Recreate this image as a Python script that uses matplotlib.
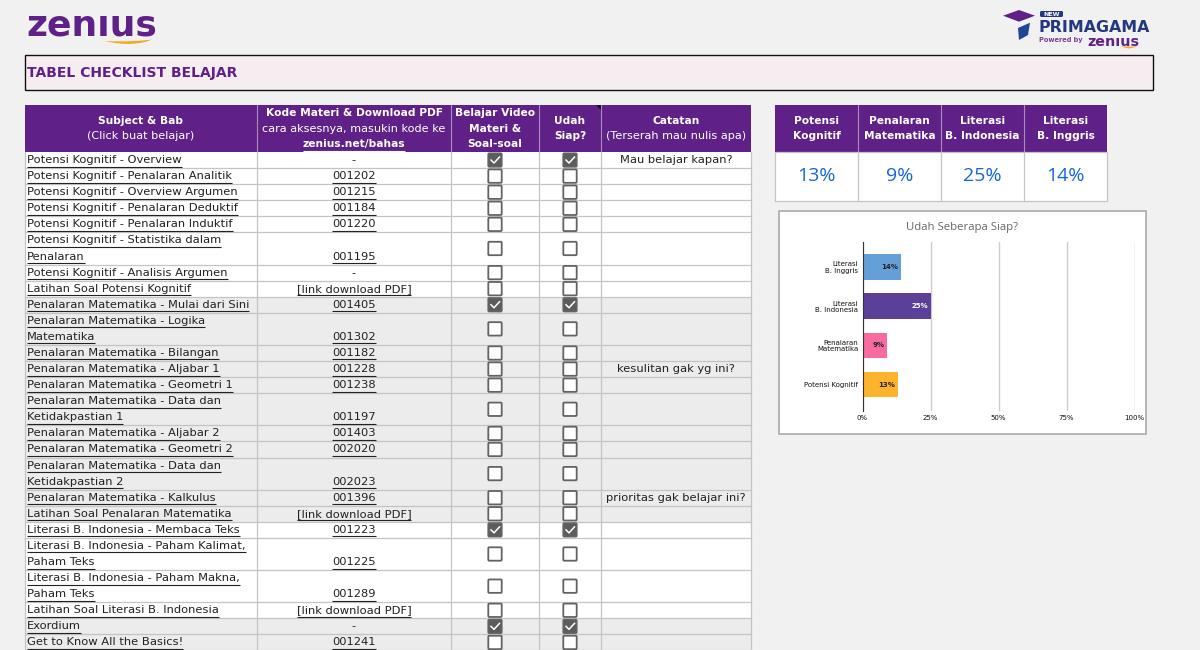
import matplotlib
matplotlib.use("Agg")
import matplotlib.pyplot as plt
from matplotlib.patches import Rectangle, FancyBboxPatch, Polygon, PathPatch
from matplotlib.path import Path

FONT = "DejaVu Sans"
plt.rcParams["font.family"] = [FONT]

PURPLE = "#5f2187"
GREY_ROW = "#ececec"
LINE = "#c4c4c4"
INK = "#222222"
BOLD_SIZE = 7.7
BODY_SIZE = 8.25

# table data
subjects = [
    "Potensi Kognitif - Overview",
    "Potensi Kognitif - Penalaran Analitik",
    "Potensi Kognitif - Overview Argumen",
    "Potensi Kognitif - Penalaran Deduktif",
    "Potensi Kognitif - Penalaran Induktif",
    "Potensi Kognitif - Statistika dalam\nPenalaran",
    "Potensi Kognitif - Analisis Argumen",
    "Latihan Soal Potensi Kognitif",
    "Penalaran Matematika - Mulai dari Sini",
    "Penalaran Matematika - Logika\nMatematika",
    "Penalaran Matematika - Bilangan",
    "Penalaran Matematika - Aljabar 1",
    "Penalaran Matematika - Geometri 1",
    "Penalaran Matematika - Data dan\nKetidakpastian 1",
    "Penalaran Matematika - Aljabar 2",
    "Penalaran Matematika - Geometri 2",
    "Penalaran Matematika - Data dan\nKetidakpastian 2",
    "Penalaran Matematika - Kalkulus",
    "Latihan Soal Penalaran Matematika",
    "Literasi B. Indonesia - Membaca Teks",
    "Literasi B. Indonesia - Paham Kalimat,\nPaham Teks",
    "Literasi B. Indonesia - Paham Makna,\nPaham Teks",
    "Latihan Soal Literasi B. Indonesia",
    "Exordium",
    "Get to Know All the Basics!",
]
codes = ["-", "001202", "001215", "001184", "001220", "001195", "-", "[link download PDF]",
         "001405", "001302", "001182", "001228", "001238", "001197", "001403", "002020",
         "002023", "001396", "[link download PDF]", "001223", "001225", "001289",
         "[link download PDF]", "-", "001241"]
video_done = [1, 0, 0, 0, 0, 0, 0, 0, 1, 0, 0, 0, 0, 0, 0, 0, 0, 0, 0, 1, 0, 0, 0, 1, 0]
siap_done = [1, 0, 0, 0, 0, 0, 0, 0, 1, 0, 0, 0, 0, 0, 0, 0, 0, 0, 0, 1, 0, 0, 0, 1, 0]
notes = {0: "Mau belajar kapan?", 11: "kesulitan gak yg ini?", 17: "prioritas gak belajar ini?"}
grey_sections = ("Penalaran Matematika", "Latihan Soal Penalaran", "Exordium", "Get to Know")

# summary and chart data
summary_heads = ["Potensi\nKognitif", "Penalaran\nMatematika", "Literasi\nB. Indonesia", "Literasi\nB. Inggris"]
summary_vals = [13, 9, 25, 14]
chart_labels = ["Potensi Kognitif", "Penalaran\nMatematika", "Literasi\nB. Indonesia", "Literasi\nB. Inggris"]
chart_colors = ["#fdb32b", "#f76b9f", "#5a4099", "#659fd8"]
chart_label_colors = ["#222222", "#222222", "white", "#222222"]
chart_ticks = [0, 25, 50, 75, 100]

fig = plt.figure(figsize=(12, 6.5), dpi=100, facecolor="#f1f1f1")
ax = fig.add_axes([0, 0, 1, 1])
ax.set_xlim(0, 1200)
ax.set_ylim(650, 0)
ax.axis("off")


def put_text(x, y, s, size=BODY_SIZE, color=INK, weight="normal", ha="left", underline=False, **kw):
    t = ax.text(x, y, s, fontsize=size, color=color, weight=weight, ha=ha, va="center", **kw)
    if underline:
        bb = t.get_window_extent(fig.canvas.get_renderer())
        ax.plot([bb.x0, bb.x1], [y + 6.5, y + 6.5], color=color, lw=0.8, solid_capstyle="butt")
    return t


def logo_word(x, baseline, size, clip_top):
    # the logo has a dotless i, so the dot gets clipped off
    t = ax.text(x, baseline, "zenius", fontsize=size, color=PURPLE, weight="bold", ha="left", va="baseline")
    t.set_clip_path(Rectangle((x - 5, clip_top), 400, 60, transform=ax.transData))
    t.set_clip_on(True)
    return t


def checkbox(cx, cy, checked):
    face = "#5c5c5c" if checked else "white"
    ax.add_patch(FancyBboxPatch((cx - 6.7, cy - 6.7), 13.4, 13.4, boxstyle="round,pad=0,rounding_size=1",
                                fc=face, ec="#636363", lw=1.3, zorder=3))
    if checked:
        ax.plot([cx - 4, cx - 1, cx + 4.5], [cy, cy + 3, cy - 3], color="white", lw=1.1, zorder=4)


# logos
logo_word(26, 36, 26, 15.5)
swoosh = Path([(105, 41), (125, 46), (142, 44), (152, 39.5), (140, 41), (125, 42), (105, 41)],
              [Path.MOVETO, Path.CURVE4, Path.CURVE4, Path.CURVE4, Path.CURVE4, Path.CURVE4, Path.CURVE4])
ax.add_patch(PathPatch(swoosh, fc="#f5a623", ec="none"))

ax.add_patch(Polygon([(1003, 15.7), (1019, 10), (1035, 15.7), (1019, 21.7)], fc=PURPLE, ec="none"))
ax.add_patch(Polygon([(1018, 28), (1030, 22.7), (1028, 35), (1019, 40)], fc="#1f4597", ec="none"))
ax.add_patch(FancyBboxPatch((1040, 11), 23, 6, boxstyle="round,pad=0,rounding_size=1.5", fc="#24387f", ec="none"))
put_text(1051.5, 14, "NEW", size=4.5, color="white", weight="bold", ha="center")
put_text(1038, 27, "PRIMAGAMA", size=11.4, color="#24387f", weight="bold")
put_text(1039, 40, "Powered by", size=4.8, color="#7a3f9d", weight="bold")
logo_word(1087, 46, 10.3, 38)
ax.add_patch(Polygon([(1120, 46.5), (1138, 46.5), (1129, 48.5)], fc="#f5a623", ec="none"))

# title bar
ax.add_patch(Rectangle((24.5, 54.5), 1128, 35.5, fc="#f6edf0", ec="#111111", lw=1))
put_text(27, 72.5, "TABEL CHECKLIST BELAJAR", size=10, color=PURPLE, weight="bold")

# main table
col_x = [25, 257, 451, 539, 601, 751]
head_top, head_bot = 105, 152
ax.add_patch(Rectangle((col_x[0], head_top), col_x[-1] - col_x[0], head_bot - head_top, fc=PURPLE, ec="none"))
for x in col_x[1:-1]:
    ax.plot([x, x], [head_top, head_bot], color="#a98bbd", lw=0.8)
put_text(141, 121, "Subject & Bab", size=BOLD_SIZE, color="white", weight="bold", ha="center")
put_text(141, 136, "(Click buat belajar)", size=8.1, color="white", ha="center")
put_text(354, 113, "Kode Materi & Download PDF", size=BOLD_SIZE, color="white", weight="bold", ha="center")
put_text(354, 128.5, "cara aksesnya, masukin kode ke", size=8.1, color="white", ha="center")
put_text(354, 144, "zenius.net/bahas", size=BOLD_SIZE, color="white", weight="bold", ha="center", underline=True)
put_text(495, 113, "Belajar Video", size=BOLD_SIZE, color="white", weight="bold", ha="center")
put_text(495, 128.5, "Materi &", size=BOLD_SIZE, color="white", weight="bold", ha="center")
put_text(495, 144, "Soal-soal", size=BOLD_SIZE, color="white", weight="bold", ha="center")
put_text(570, 121, "Udah", size=BOLD_SIZE, color="white", weight="bold", ha="center")
put_text(570, 136, "Siap?", size=BOLD_SIZE, color="white", weight="bold", ha="center")
put_text(676, 121, "Catatan", size=BOLD_SIZE, color="white", weight="bold", ha="center")
put_text(676, 136, "(Terserah mau nulis apa)", size=8.1, color="white", ha="center")
ax.add_patch(Polygon([(596, 105), (601, 105), (601, 110)], fc="#111111", ec="none"))

UNIT = 16.08
y = head_bot
for i, subj in enumerate(subjects):
    lines = subj.split("\n")
    h = UNIT * len(lines)
    face = GREY_ROW if subj.startswith(grey_sections) else "white"
    ax.add_patch(Rectangle((col_x[0], y), col_x[-1] - col_x[0], h, fc=face, ec="none", zorder=1))
    ax.plot([col_x[0], col_x[-1]], [y + h, y + h], color=LINE, lw=0.9, zorder=2)
    for k, part in enumerate(lines):
        put_text(27, y + UNIT * (k + 0.5), part, underline=True, zorder=5)
    put_text(354, y + h - UNIT / 2, codes[i], ha="center", underline=codes[i] != "-", zorder=5)
    checkbox(495, y + h / 2, video_done[i])
    checkbox(570, y + h / 2, siap_done[i])
    if i in notes:
        put_text(676, y + h / 2, notes[i], ha="center", zorder=5)
    y += h
for x in col_x:
    ax.plot([x, x], [head_bot, 650], color=LINE, lw=0.9, zorder=2)

# summary table
sum_x = [775, 858, 941, 1024, 1107]
ax.add_patch(Rectangle((775, 105), 332, 47, fc=PURPLE, ec="none"))
ax.add_patch(Rectangle((775, 152), 332, 49, fc="white", ec=LINE, lw=0.9))
for j, (head, val) in enumerate(zip(summary_heads, summary_vals)):
    cx = (sum_x[j] + sum_x[j + 1]) / 2
    top, bottom = head.split("\n")
    put_text(cx, 121, top, size=BOLD_SIZE, color="white", weight="bold", ha="center")
    put_text(cx, 136, bottom, size=BOLD_SIZE, color="white", weight="bold", ha="center")
    put_text(cx, 176, f"{val}%", size=14, color="#1565d8", ha="center", family="Open Sans")
    if j:
        ax.plot([sum_x[j], sum_x[j]], [105, 152], color="#a98bbd", lw=0.8)
        ax.plot([sum_x[j], sum_x[j]], [152, 201], color=LINE, lw=0.9)

# chart box
ax.add_patch(Rectangle((778.5, 210.5), 367, 223.5, fc="white", ec="#aaaaaa", lw=1.2))
put_text(962, 227.5, "Udah Seberapa Siap?", size=8.2, color="#666666", ha="center", family="Open Sans")

cax = fig.add_axes([862.5 / 1200, 1 - 410.7 / 650, 272.2 / 1200, 169 / 650])
cax.patch.set_alpha(0)
positions = list(range(len(summary_vals)))
bars = cax.barh(positions, summary_vals, height=0.65, color=chart_colors, zorder=3)
cax.set_xlim(0, 100)
cax.set_ylim(-0.666, 3.645)
cax.set_xticks(chart_ticks)
cax.set_xticklabels([f"{t}%" for t in chart_ticks], fontsize=5, color="#111111")
cax.set_yticks(positions)
cax.set_yticklabels(chart_labels, fontsize=5, color="#111111", linespacing=1.05)
cax.tick_params(length=0, pad=3)
cax.grid(axis="x", color="#cccccc", lw=1, zorder=0)
for side in ("top", "right", "bottom"):
    cax.spines[side].set_visible(False)
cax.spines["left"].set_color("#333333")
cax.spines["left"].set_zorder(4)
for bar, val, col in zip(bars, summary_vals, chart_label_colors):
    cax.text(val - 0.9, bar.get_y() + bar.get_height() / 2, f"{val}%", ha="right", va="center",
             fontsize=5, weight="bold", color=col, zorder=5)

fig.savefig("out.png", dpi=100, facecolor=fig.get_facecolor())
